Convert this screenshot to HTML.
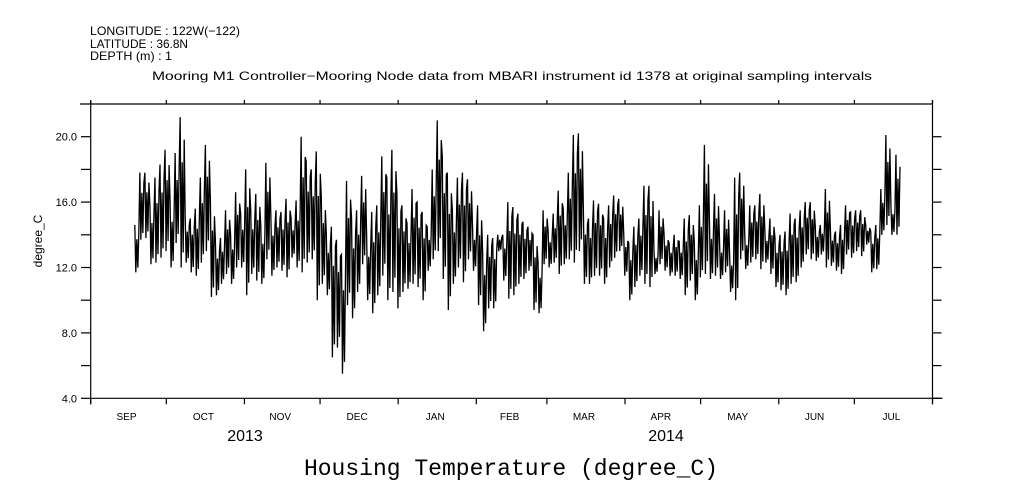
<!DOCTYPE html>
<html><head><meta charset="utf-8"><style>
html,body{margin:0;padding:0;background:#fff;width:1009px;height:504px;overflow:hidden}
svg text{font-family:"Liberation Sans",sans-serif;fill:#000}
</style></head><body>
<svg id="chart" width="1009" height="504" viewBox="0 0 1009 504" xmlns="http://www.w3.org/2000/svg">
<g font-size="12">
<text x="90" y="35" textLength="150" lengthAdjust="spacingAndGlyphs">LONGITUDE : 122W(−122)</text>
<text x="90" y="48" textLength="98" lengthAdjust="spacingAndGlyphs">LATITUDE : 36.8N</text>
<text x="90" y="60" textLength="82" lengthAdjust="spacingAndGlyphs">DEPTH (m) : 1</text>
</g>
<text x="152" y="80" font-size="12" textLength="720" lengthAdjust="spacingAndGlyphs">Mooring M1 Controller−Mooring Node data from MBARI instrument id 1378 at original sampling intervals</text>
<g id="axes"></g>
<path id="series" fill="none" stroke="#000" stroke-width="1.3"/>
<text transform="translate(42,241) rotate(-90)" text-anchor="middle" font-size="12">degree_C</text>
<text x="245" y="441" text-anchor="middle" font-size="16">2013</text>
<text x="666" y="441" text-anchor="middle" font-size="16">2014</text>
<text x="511" y="475" text-anchor="middle" font-size="23" style="font-family:'Liberation Mono',monospace">Housing Temperature (degree_C)</text>
</svg>
<script>
const yTicks=[4,6,8,10,12,14,16,18,20];
const yTickLabels=["4.0","","8.0","","12.0","","16.0","","20.0"];
const monthNames=["SEP","OCT","NOV","DEC","JAN","FEB","MAR","APR","MAY","JUN","JUL"];
const monthLengths=[30,31,30,31,31,28,31,30,31,30,31];
const startDay=17.5;
const binDays=2;
const hiVals=[14.6,17.8,17.8,15.8,17.5,18.3,19.2,16.0,19.0,21.2,15.0,15.0,15.6,17.5,19.5,16.0,13.5,13.8,15.5,14.0,16.6,15.3,18.0,15.5,16.5,14.5,18.4,15.0,15.5,15.4,16.2,15.0,16.1,20.0,18.5,18.0,19.1,16.3,14.0,14.5,13.7,12.8,17.3,15.0,15.5,17.6,13.8,15.4,15.8,18.8,17.5,19.2,16.5,15.8,14.7,16.8,16.0,15.4,14.5,18.0,21.0,18.8,17.8,15.5,17.5,17.8,17.4,14.5,15.8,13.0,14.0,13.8,14.0,14.0,16.0,15.7,15.3,14.8,14.5,14.0,12.3,15.5,14.2,15.3,16.7,15.6,17.8,20.1,20.2,15.3,15.0,16.1,15.9,15.0,15.8,16.4,16.2,14.0,13.5,14.5,15.0,17.0,17.0,13.0,15.5,14.0,13.5,14.0,13.6,15.0,15.2,13.5,15.8,19.5,14.8,16.5,13.6,15.5,12.8,17.5,17.8,14.0,15.8,15.8,16.5,14.2,15.0,13.8,14.0,14.2,15.3,15.0,15.5,16.0,16.0,14.5,14.6,16.8,14.3,14.2,14.6,15.8,15.4,15.5,15.5,14.6,14.2,14.6,16.8,20.1,15.8,18.9];
const loVals=[11.7,13.7,13.8,12.2,12.3,12.6,13.0,12.0,13.5,12.0,12.3,11.7,11.5,12.3,13.0,10.2,10.3,11.0,11.6,11.0,12.0,12.0,10.3,11.6,11.2,11.0,12.5,11.5,12.0,11.8,11.4,12.6,12.0,11.7,12.3,12.5,10.0,11.0,10.3,6.5,7.1,5.5,9.7,8.9,10.5,12.2,10.0,9.2,10.3,11.5,10.0,10.5,9.5,10.5,10.7,11.0,10.8,10.0,11.8,12.5,13.0,11.3,9.4,11.0,12.0,11.1,12.5,11.8,9.7,8.1,9.5,9.5,13.0,11.2,10.1,10.3,11.0,11.3,11.8,9.4,9.2,12.2,12.0,12.3,11.6,12.2,12.5,12.3,13.0,11.0,11.0,11.5,11.5,11.0,12.0,12.6,13.0,11.5,10.0,10.8,11.5,11.0,10.8,11.6,12.2,11.8,11.5,11.5,11.3,10.3,11.2,10.0,11.4,11.6,11.3,11.5,11.3,11.7,10.5,10.0,12.5,11.9,12.3,12.5,11.9,12.3,11.6,10.8,10.6,10.3,11.0,11.1,12.0,12.8,12.5,12.4,12.8,12.0,12.1,11.8,11.6,12.8,12.6,13.0,12.7,13.4,11.7,11.9,14.0,14.6,14.0,14.0];

const L=90.7,R=932.5,T=104,B=398.3;
const totalDays=monthLengths.reduce((a,b)=>a+b,0);
function xScale(day){return L+(R-L)*day/totalDays;}
function yScale(v){return B-(B-T)*(v-4)/(22-4);}
const NS="http://www.w3.org/2000/svg";
const axes=document.getElementById('axes');
function line(x1,y1,x2,y2,name){
  const l=document.createElementNS(NS,'line');
  l.setAttribute('x1',x1);l.setAttribute('y1',y1);l.setAttribute('x2',x2);l.setAttribute('y2',y2);
  l.setAttribute('stroke','#000');l.setAttribute('stroke-width','1.2');
  
  
  axes.appendChild(l);
}
function text(x,y,s,anchor,size,name){
  const t=document.createElementNS(NS,'text');
  t.setAttribute('x',x);t.setAttribute('y',y);t.setAttribute('text-anchor',anchor);t.setAttribute('font-size',size);
  t.textContent=s;
  
  
  axes.appendChild(t);
}
line(80,T,R,T,'top-axis');
line(L,B,R+10,B,'bottom-axis');
line(L,100,L,B+6,'left-axis');
line(R,100,R,B+6,'right-axis');
yTicks.forEach((v,i)=>{
  const y=yScale(v);
  line(81,y,L,y,'y-tick');
  line(R,y,R+9,y,'y-tick-right');
  if(yTickLabels[i]) text(77,y+4,yTickLabels[i],'end',11,'y-tick-label');
});
let acc=0;
for(let i=0;i<=monthLengths.length;i++){
  const x=xScale(acc);
  line(x,T-4,x,T,'top-month-tick');
  line(x,B,x,B+6,'bottom-month-tick');
  if(i<monthLengths.length){
    text(xScale(acc+monthLengths[i]/2)-2,420,monthNames[i],'middle',10,'month-label');
    acc+=monthLengths[i];
  }
}
// series: each 2-day bin drawn as several oscillations between its low and high
let d='';
hiVals.forEach((h,i)=>{
  const t0=startDay+i*binDays;
  const lo=loVals[i];
  const pts=[[0,h],[0.4,lo],[0.8,lo+(h-lo)*0.7],[1.2,lo+(h-lo)*0.1],[1.6,lo+(h-lo)*0.85]];
  pts.forEach((p,j)=>{
    d+=((i===0&&j===0)?'M':'L')+xScale(t0+p[0]).toFixed(2)+','+yScale(p[1]).toFixed(2);
  });
});
document.getElementById('series').setAttribute('d',d);
</script>
</body></html>
